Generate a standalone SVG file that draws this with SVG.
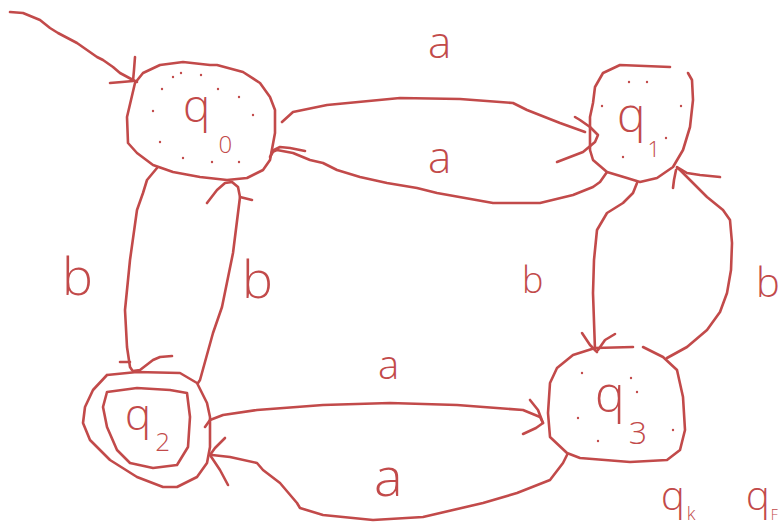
<svg xmlns="http://www.w3.org/2000/svg" width="781" height="524" viewBox="0 0 781 524">
  <style>
    .ink { fill: none; stroke: #c24a4a; stroke-width: 2.6; stroke-linecap: round; stroke-linejoin: round; }
    .dot { fill: #c24a4a; }
    .lbl { fill: #c24a4a; font-family: "Open Sans", "Liberation Sans", "DejaVu Sans", sans-serif; font-weight: 300; }
  </style>
  <rect width="781" height="524" fill="#ffffff"/>

  <!-- transitions between the states -->
  <g id="connectors">
    <!-- start arrow into q0 -->
    <path class="ink" d="M10,12 L23,13 L40,20 L50,28 L58,33 L77,43 L97,57 L103,60 L113,67 L120,73 L133,80 L137,82"/>
    <path class="ink" d="M135,57 L134,70 L133,81 M110,83 L122,82 L133,81"/>

    <!-- q0 -> q1 (a) -->
    <path class="ink" d="M282,122 L293,112 L327,105 L400,98 L460,99 L513,103 L527,110 L560,123 L585,132"/>
    <path class="ink" d="M575,117 L580,120 L590,127 L598,135 L595,142 L583,152 L557,162"/>

    <!-- q1 -> q0 (a) -->
    <path class="ink" d="M607,172 L600,182 L593,187 L573,195 L540,203 L493,203 L437,193 L417,188 L387,183 L360,177 L337,170 L323,163 L310,160 L293,153 L277,150 L272,152"/>
    <path class="ink" d="M305,151 L290,148 L280,147 L274,150 L270,157"/>

    <!-- q0 -> q2 (b) -->
    <path class="ink" d="M157,168 L147,180 L143,193 L137,210 L130,260 L125,310 L127,347 L130,367 L132,370"/>
    <path class="ink" d="M120,362 L130,362 M172,356 L160,357 L153,360 L140,370 L133,371"/>

    <!-- q2 -> q0 (b) -->
    <path class="ink" d="M198,383 L200,380 L213,333 L222,307 L233,253 L240,197 L238,187 L232,182 L225,183 L217,190 L207,203"/>
    <path class="ink" d="M240,197 L252,200"/>

    <!-- q1 -> q3 (b) -->
    <path class="ink" d="M637,183 L633,193 L623,203 L607,213 L597,230 L594,260 L593,293 L595,350"/>
    <path class="ink" d="M582,333 L590,345 L597,352 M615,334 L605,340 L598,350"/>

    <!-- q3 -> q1 (b) -->
    <path class="ink" d="M667,358 L687,347 L707,330 L720,312 L727,293 L731,270 L732,243 L730,220 L723,210 L707,197 L695,185 L680,170 L677,168"/>
    <path class="ink" d="M720,177 L700,175 L687,173 L677,167 M673,188 L674,180 L676,170"/>

    <!-- q2 -> q3 (a) -->
    <path class="ink" d="M205,427 L210,420 L223,415 L257,410 L323,405 L390,403 L457,405 L523,410 L540,417 L543,423"/>
    <path class="ink" d="M530,400 L538,410 L543,423 L536,428 L523,434"/>

    <!-- q3 -> q2 (a) -->
    <path class="ink" d="M567,455 L563,463 L550,480 L517,493 L483,503 L423,517 L373,520 L323,515 L300,508 L297,503 L280,483 L263,470 L257,463 L230,457 L212,455"/>
    <path class="ink" d="M225,438 L215,448 L210,455 L220,470 L228,485"/>

    <!-- transition labels -->
    <text class="lbl" x="428" y="58" font-size="44">a</text>
    <text class="lbl" x="428" y="173" font-size="44">a</text>
    <text class="lbl" x="378" y="379" font-size="40">a</text>
    <text class="lbl" x="374" y="496" font-size="54">a</text>
    <text class="lbl" x="62" y="295" font-size="52">b</text>
    <text class="lbl" x="242" y="298" font-size="52">b</text>
    <text class="lbl" x="522" y="293" font-size="36">b</text>
    <text class="lbl" x="756" y="297" font-size="40">b</text>
  </g>

  <!-- initial state -->
  <g id="q0">
    <path class="ink" d="M135,83 L127,117 L128,143 L137,153 L153,165 L173,172 L200,177 L227,180 L247,178 L263,170 L270,160 L275,133 L275,110 L270,97 L260,83 L243,72 L217,65 L210,65 L183,62 L160,65 L143,73 L135,83"/>
    <text class="lbl" x="183" y="122" font-size="46">q<tspan font-size="24" dx="8" dy="31">0</tspan></text>
    <circle class="dot" cx="173" cy="77" r="1.2"/>
    <circle class="dot" cx="181" cy="73" r="1.2"/>
    <circle class="dot" cx="201" cy="75" r="1.2"/>
    <circle class="dot" cx="162" cy="89" r="1.2"/>
    <circle class="dot" cx="218" cy="89" r="1.2"/>
    <circle class="dot" cx="239" cy="97" r="1.2"/>
    <circle class="dot" cx="153" cy="111" r="1.2"/>
    <circle class="dot" cx="253" cy="115" r="1.2"/>
    <circle class="dot" cx="160" cy="142" r="1.2"/>
    <circle class="dot" cx="183" cy="158" r="1.2"/>
    <circle class="dot" cx="212" cy="162" r="1.2"/>
    <circle class="dot" cx="239" cy="162" r="1.2"/>
  </g>

  <g id="q1">
    <path class="ink" d="M670,67 L620,65 L603,73 L595,87 L593,103 L590,117 L590,150 L593,160 L607,172 L627,178 L640,182 L657,178 L673,167 L683,150 L690,127 L693,100 L692,80 L688,73"/>
    <text class="lbl" x="617" y="132" font-size="48">q<tspan font-size="22" dx="2" dy="25">1</tspan></text>
    <circle class="dot" cx="629" cy="82" r="1.2"/>
    <circle class="dot" cx="647" cy="82" r="1.2"/>
    <circle class="dot" cx="602" cy="106" r="1.2"/>
    <circle class="dot" cx="681" cy="106" r="1.2"/>
    <circle class="dot" cx="666" cy="138" r="1.2"/>
    <circle class="dot" cx="623" cy="157" r="1.2"/>
  </g>

  <!-- accepting state (double ring) -->
  <g id="q2">
    <path class="ink" d="M107,375 L137,372 L180,373 L197,383 L207,403 L210,417 L210,447 L207,463 L197,477 L177,487 L163,487 L137,477 L110,460 L90,440 L83,423 L85,407 L93,390 L107,375"/>
    <path class="ink" d="M107,392 L137,388 L170,390 L187,393 L190,417 L188,447 L177,465 L153,468 L130,463 L117,450 L107,427 L103,407 L107,392"/>
    <text class="lbl" x="125" y="430" font-size="44">q<tspan font-size="26" dx="4" dy="21">2</tspan></text>
  </g>

  <g id="q3">
    <path class="ink" d="M633,347 L595,348 L573,355 L557,368 L550,383 L548,413 L550,437 L567,453 L580,458 L630,462 L667,460 L680,450 L685,430 L683,397 L677,370 L663,357 L643,347"/>
    <text class="lbl" x="595" y="412" font-size="50">q<tspan font-size="32" dx="4" dy="32">3</tspan></text>
    <circle class="dot" cx="582" cy="373" r="1.2"/>
    <circle class="dot" cx="631" cy="378" r="1.2"/>
    <circle class="dot" cx="637" cy="392" r="1.2"/>
    <circle class="dot" cx="578" cy="418" r="1.2"/>
    <circle class="dot" cx="673" cy="430" r="1.2"/>
    <circle class="dot" cx="598" cy="441" r="1.2"/>
  </g>

  <!-- further states at the lower edge -->
  <g id="qk">
    <text class="lbl" x="661" y="510" font-size="40">q<tspan font-size="18" dx="2" dy="10">k</tspan></text>
  </g>
  <g id="qF">
    <text class="lbl" x="746" y="510" font-size="40">q<tspan font-size="14" dx="1" dy="10">F</tspan></text>
  </g>
</svg>
